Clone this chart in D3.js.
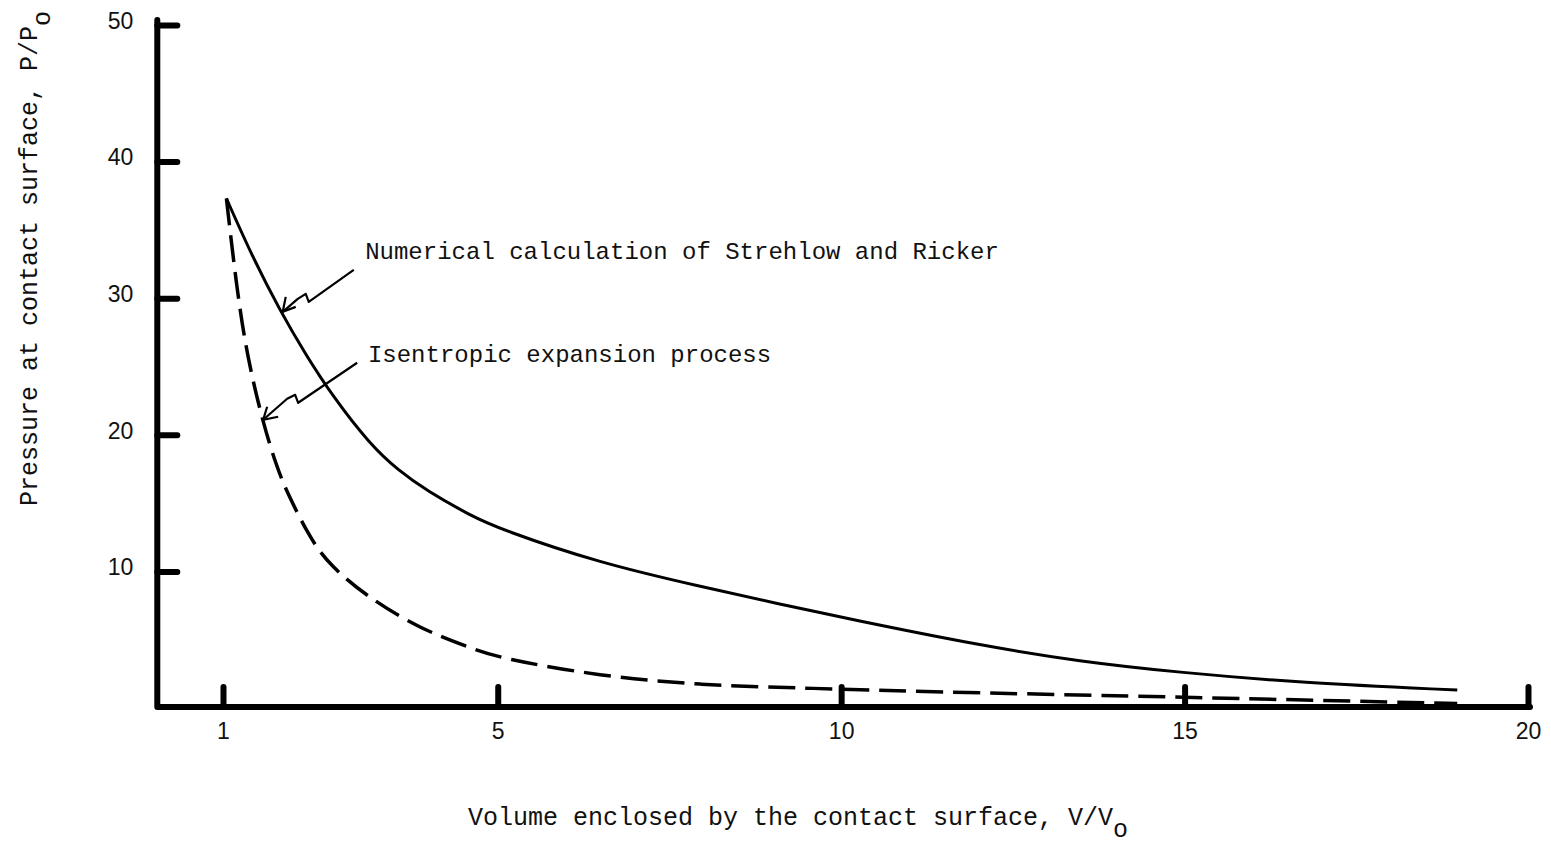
<!DOCTYPE html>
<html>
<head>
<meta charset="utf-8">
<script src="https://cdn.jsdelivr.net/npm/d3@7"></script>
<style>
    body { margin: 0; background: #fff; }
    svg { display: block; }
    .tick text {
        font-family: "Liberation Sans", Arial, sans-serif;
        font-size: 23px;
        fill: #111;
    }
    .tick line {
        stroke: #000;
        stroke-width: 6px;
        stroke-linecap: round;
    }
    text.mono {
        font-family: "Liberation Mono", "DejaVu Sans Mono", monospace;
        fill: #111;
    }
</style>
</head>
<body>
<svg id="chart" width="1551" height="846"></svg>
<script>
// volume ratio V/Vo and pressure ratio P/Po
var numericalV = [1.05, 1.44, 1.83, 2.2, 2.6, 3.14, 3.55, 3.97, 4.6, 5.03, 6.49, 7.95, 9.11, 10.13, 12.0, 13.48, 14.93, 16.68, 18.97];
var numericalP = [37.3, 32.9, 29.1, 25.9, 22.8, 19.3, 17.4, 15.9, 14.1, 13.1, 10.6, 8.9, 7.6, 6.5, 4.6, 3.4, 2.6, 1.85, 1.31];

var isentropicV = [1.05, 1.2, 1.35, 1.58, 1.78, 1.93, 2.27, 2.56, 3.14, 3.87, 4.6, 5.03, 6.49, 7.95, 9.4, 12.0, 14.93, 17.0, 18.97];
var isentropicP = [37.3, 30.7, 25.8, 20.9, 17.7, 15.8, 12.4, 10.4, 8.0, 5.8, 4.4, 3.65, 2.33, 1.68, 1.46, 1.1, 0.8, 0.55, 0.33];

var xTicks = [1, 5, 10, 15, 20];
var yTicks = [10, 20, 30, 40, 50];

var numericalLabel = "Numerical calculation of Strehlow and Ricker";
var isentropicLabel = "Isentropic expansion process";
var xTitle = "Volume enclosed by the contact surface, V/V";
var yTitle = "Pressure at contact surface, P/P";
var subscript = "o";

var svg = d3.select("#chart");

var x = d3.scaleLinear().domain([0, 20]).range([154.3, 1528]);
var y = d3.scaleLinear().domain([0, 50]).range([708, 25]);

// x axis: ticks point up into the plot, labels below
var xAxis = svg.append("g")
    .attr("transform", "translate(0," + (y(0) - 1) + ")")
    .call(d3.axisBottom(x).tickValues(xTicks).tickSize(-20).tickSizeOuter(0).tickPadding(16).tickFormat(d3.format("d")));
xAxis.select(".domain").remove();

// y axis: ticks point right
var yAxis = svg.append("g")
    .attr("transform", "translate(" + (x(0) + 3) + ",0)")
    .call(d3.axisLeft(y).tickValues(yTicks).tickSize(-20).tickSizeOuter(0).tickPadding(24).tickFormat(d3.format("d")));
yAxis.select(".domain").remove();
yAxis.selectAll(".tick text").attr("y", -4);

// heavy L-shaped frame
svg.append("path")
    .attr("d", "M" + (x(0) + 3) + "," + (y(50) - 5) + "V" + (y(0) - 1) + "H" + (x(20) + 2))
    .attr("fill", "none")
    .attr("stroke", "#000")
    .attr("stroke-width", 6)
    .attr("stroke-linecap", "round")
    .attr("stroke-linejoin", "round");

var line = d3.line()
    .x(function(d) { return x(d[0]); })
    .y(function(d) { return y(d[1]); })
    .curve(d3.curveBasis);

svg.append("path")
    .datum(d3.zip(numericalV, numericalP))
    .attr("d", line)
    .attr("fill", "none")
    .attr("stroke", "#000")
    .attr("stroke-width", 3);

svg.append("path")
    .datum(d3.zip(isentropicV, isentropicP))
    .attr("d", line)
    .attr("fill", "none")
    .attr("stroke", "#000")
    .attr("stroke-width", 3.5)
    .attr("stroke-dasharray", "27,10");

// annotations: text position and arrow tip in data units, zig-zag leader in px from the tip
var notes = [
    { text: numericalLabel, tx: 3.07, ty: 32.9, ax: 1.87, ay: 29.0,
      leader: [[71, -42], [26, -10], [23, -18], [15, -13], [0, 0]], head: [[3, -15], [13, -5]] },
    { text: isentropicLabel, tx: 3.11, ty: 25.3, ax: 1.585, ay: 21.1,
      leader: [[94, -57], [35, -17], [32, -25], [24, -21], [0, 0]], head: [[4, -13], [15, -3]] }
];

notes.forEach(function(n) {
    svg.append("text")
        .attr("class", "mono")
        .attr("x", x(n.tx))
        .attr("y", y(n.ty))
        .attr("font-size", 24)
        .text(n.text);

    var tipX = x(n.ax), tipY = y(n.ay);
    var pts = n.leader.map(function(p) { return [tipX + p[0], tipY + p[1]]; });
    svg.append("path")
        .attr("d", d3.line()(pts))
        .attr("fill", "none")
        .attr("stroke", "#000")
        .attr("stroke-width", 2.2)
        .attr("stroke-linejoin", "round");
    svg.append("path")
        .attr("d", d3.line()([[tipX + n.head[0][0], tipY + n.head[0][1]], [tipX, tipY], [tipX + n.head[1][0], tipY + n.head[1][1]]]))
        .attr("fill", "none")
        .attr("stroke", "#000")
        .attr("stroke-width", 2.2);
});

// axis titles with subscript o
var xt = svg.append("text")
    .attr("class", "mono")
    .attr("x", 468)
    .attr("y", 825)
    .attr("font-size", 25)
    .text(xTitle);
xt.append("tspan").attr("dy", 12).text(subscript);

var yt = svg.append("text")
    .attr("class", "mono")
    .attr("transform", "translate(37,506) rotate(-90)")
    .attr("font-size", 25)
    .text(yTitle);
yt.append("tspan").attr("dy", 13).text(subscript);
</script>
</body>
</html>
